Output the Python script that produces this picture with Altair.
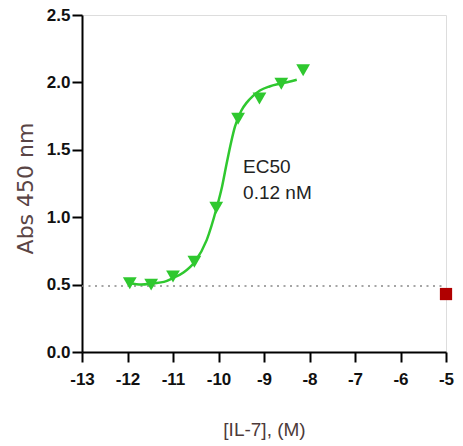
import altair as alt
import pandas as pd

# Measured points (log10 [IL-7], M) and absorbance
pt_x = [-11.95, -11.48, -11.0, -10.53, -10.05, -9.57, -9.1, -8.62, -8.14]
pt_y = [0.51, 0.50, 0.56, 0.67, 1.07, 1.73, 1.88, 1.99, 2.09]

# Fitted curve
cv_x = [-11.95, -11.7, -11.43, -11.2, -10.99, -10.77, -10.52, -10.26, -10.04, -9.92, -9.82, -9.72, -9.64, -9.5, -9.38, -9.24, -9.09, -8.88, -8.65, -8.45, -8.28]
cv_y = [0.51, 0.50, 0.51, 0.52, 0.55, 0.59, 0.67, 0.83, 1.07, 1.23, 1.40, 1.56, 1.67, 1.79, 1.85, 1.90, 1.94, 1.97, 1.99, 2.005, 2.02]

# Control point
ctl_x = [-5]
ctl_y = [0.43]

baseline = 0.49
x_ticks = [-13, -12, -11, -10, -9, -8, -7, -6, -5]
y_ticks = [0.0, 0.5, 1.0, 1.5, 2.0, 2.5]

pts = pd.DataFrame({"x": pt_x, "y": pt_y})
curve = pd.DataFrame({"x": cv_x, "y": cv_y})
ctl = pd.DataFrame({"x": ctl_x, "y": ctl_y})
base = pd.DataFrame({"x": [-13], "x2": [-5], "y": [baseline]})
ann = pd.DataFrame({"x": [-9.46, -9.46], "y": [1.37, 1.18], "t": ["EC50", "0.12 nM"]})

GREEN = "#2fc82f"
LABEL_FONT = "Liberation Sans"
TITLE_COLOR = "#4d3a3a"

xscale = alt.Scale(domain=[-13, -5], nice=False, zero=False)
yscale = alt.Scale(domain=[0, 2.5], nice=False)

xaxis = alt.Axis(
    values=x_ticks, labelExpr="'' + datum.value", title="[IL-7], (M)", grid=False,
    domainColor="black", domainWidth=2, tickColor="black", tickWidth=2, tickSize=10,
    labelFont=LABEL_FONT, labelFontSize=17, labelFontWeight="bold", labelColor="#111",
    labelPadding=9, labelFlush=False,
    titleFont="Liberation Sans", titleFontSize=19, titleFontWeight="normal", titleColor=TITLE_COLOR,
    titleX=182, titleY=77, titleBaseline="middle", titleAlign="center",
)
yaxis = alt.Axis(
    values=y_ticks, format=".1f", title="Abs 450 nm", grid=False,
    domainColor="black", domainWidth=2, tickColor="black", tickWidth=2, tickSize=10,
    labelFont=LABEL_FONT, labelFontSize=17, labelFontWeight="bold", labelColor="#111",
    labelPadding=2, labelFlush=False,
    titleFont="DejaVu Sans", titleFontSize=22, titleFontWeight="normal", titleColor="#5a4545",
    titleX=-57, titleY=173, titleBaseline="middle", titleAlign="center", titleAngle=-90,
)

dotted = alt.Chart(base).mark_rule(color="#888", strokeWidth=1.6, strokeDash=[2, 4.5]).encode(
    x=alt.X("x:Q", scale=xscale, axis=xaxis),
    x2="x2:Q",
    y=alt.Y("y:Q", scale=yscale, axis=yaxis),
)

line = alt.Chart(curve).mark_line(color=GREEN, strokeWidth=2.5, interpolate="monotone").encode(
    x=alt.X("x:Q", scale=xscale), y=alt.Y("y:Q", scale=yscale)
)

markers = alt.Chart(pts).mark_point(shape="triangle-down", filled=True, color=GREEN, size=190, opacity=1).encode(
    x=alt.X("x:Q", scale=xscale), y=alt.Y("y:Q", scale=yscale)
)

ctl_mark = alt.Chart(ctl).mark_point(shape="square", filled=True, color="#b00000", size=150, opacity=1).encode(
    x=alt.X("x:Q", scale=xscale), y=alt.Y("y:Q", scale=yscale)
)

text = alt.Chart(ann).mark_text(align="left", baseline="middle", font="Liberation Sans", fontSize=19, color="#222").encode(
    x=alt.X("x:Q", scale=xscale), y=alt.Y("y:Q", scale=yscale), text="t:N"
)

chart = alt.layer(dotted, line, markers, ctl_mark, text).properties(
    width=364, height=337,
    autosize=alt.AutoSizeParams(type="none"),
    padding={"left": 82, "top": 15, "right": 17, "bottom": 94},
).configure_view(stroke=None).configure(background="white")

chart.save("out.html", embed_options={"renderer": "svg", "actions": False})
